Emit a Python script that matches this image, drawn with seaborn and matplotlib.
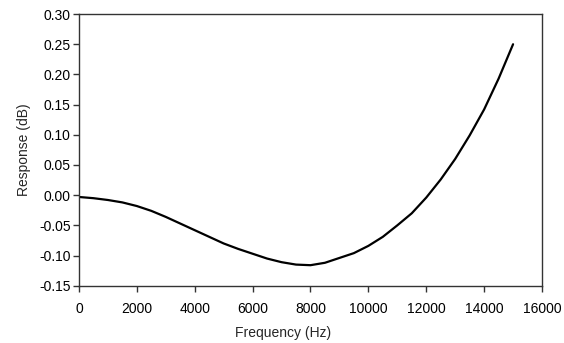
import matplotlib
matplotlib.use("Agg")
import matplotlib.pyplot as plt
import seaborn as sns
import pandas as pd

freq_hz = [0, 500, 1000, 1500, 2000, 2500, 3000, 3500, 4000, 4500, 5000, 5500,
           6000, 6500, 7000, 7500, 8000, 8500, 9000, 9500, 10000, 10500, 11000,
           11500, 12000, 12500, 13000, 13500, 14000, 14500, 15000]
response_db = [-0.003, -0.005, -0.008, -0.012, -0.018, -0.026, -0.036, -0.047,
               -0.058, -0.069, -0.080, -0.089, -0.097, -0.105, -0.111, -0.115,
               -0.116, -0.112, -0.104, -0.096, -0.084, -0.069, -0.050, -0.030,
               -0.004, 0.026, 0.060, 0.099, 0.142, 0.193, 0.250]
x_ticks = [0, 2000, 4000, 6000, 8000, 10000, 12000, 14000, 16000]
y_ticks = [-0.15, -0.10, -0.05, 0.00, 0.05, 0.10, 0.15, 0.20, 0.25, 0.30]

sns.set_theme(style="white")
plt.rcParams['font.family'] = ['Liberation Sans', 'DejaVu Sans']

df = pd.DataFrame({"Frequency (Hz)": freq_hz, "Response (dB)": response_db})

fig = plt.figure(figsize=(5.64, 3.43), dpi=100)
ax = fig.add_axes([0.140, 0.167, 0.821, 0.792])
sns.lineplot(data=df, x="Frequency (Hz)", y="Response (dB)", ax=ax,
             color="black", linewidth=1.6)

ax.set_xlim(0, 16000)
ax.set_ylim(-0.15, 0.30)
ax.set_xticks(x_ticks)
ax.set_xticklabels([str(t) for t in x_ticks])
ax.set_yticks(y_ticks)
ax.set_yticklabels([f"{t:.2f}" for t in y_ticks])

for s in ax.spines.values():
    s.set_visible(True)
    s.set_color("#333333")
    s.set_linewidth(1.0)

ax.tick_params(axis="both", which="major", direction="out", length=4, width=1,
               color="#333333", labelsize=10, labelcolor="black",
               bottom=True, left=True, top=False, right=False)
ax.tick_params(axis="x", pad=8)
ax.tick_params(axis="y", pad=2)
ax.set_xlabel("Frequency (Hz)", fontsize=10)
ax.set_ylabel("Response (dB)", fontsize=10)
ax.xaxis.set_label_coords(0.44, -0.148)
ax.yaxis.set_label_coords(-0.103, 0.5)

fig.savefig("out.png", dpi=100, facecolor="white")
